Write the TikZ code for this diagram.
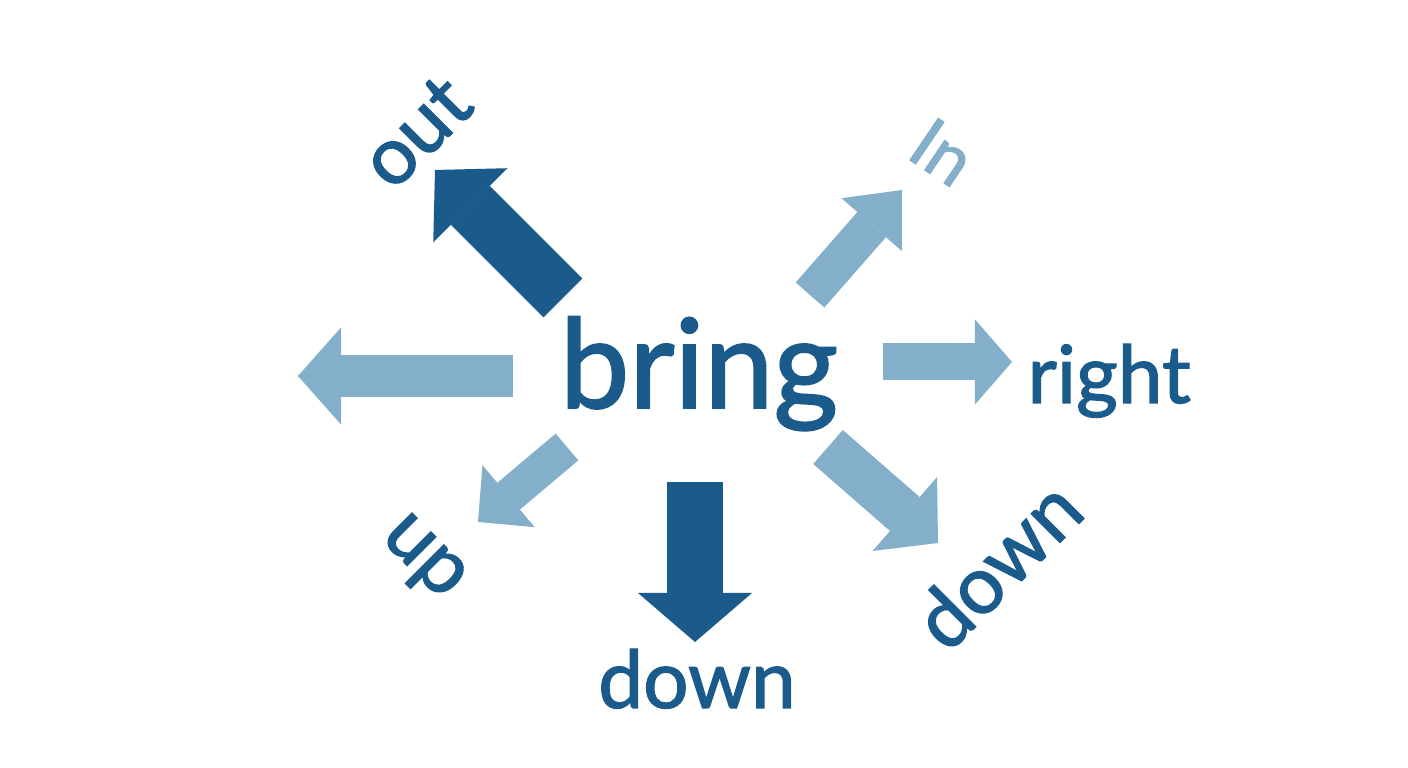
\documentclass[tikz,border=0pt]{standalone}
\usepackage{fontspec}
\setmainfont{Lato}[FakeBold=1.6]
\usetikzlibrary{arrows.meta}
\definecolor{darkblue}{HTML}{1A5B8B}
\definecolor{lightblue}{HTML}{83AFCA}
\begin{document}
\begin{tikzpicture}[x=0.01cm, y=-0.01cm,
  word/.style={text=darkblue, inner sep=0pt, font=\fontsize{22.8}{26}\selectfont},
  blk/.style n args={3}{line width=#1, -{Triangle[width=#2, length=#3, line width=0pt]}},
  dk/.style={draw=darkblue, fill=darkblue},
  lt/.style={draw=lightblue, fill=lightblue}]
\fill[white] (0,0) rectangle (1408,768);
\useasboundingbox (0,0) rectangle (1408,768);
\node[word, anchor=base, font=\fontsize{35.3}{40}\selectfont] (bring) at (699,408) {bring};
\node[word, rotate=45] (out) at (416,132) {out};
\node[word, text=lightblue, rotate=-34, font=\fontsize{20}{24}\selectfont] (in) at (943,152) {In};
\node[word, anchor=base west] (right) at (1027,403) {right};
\node[word, rotate=45] (downr) at (997,564) {down};
\node[word, anchor=base] (down) at (697,708) {down};
\node[word, rotate=-45] (up) at (421,560) {up};
\coordinate (outT) at (563,298);  \coordinate (outH) at (435,170);
\coordinate (inT) at (810,295);   \coordinate (inH) at (902,190);
\coordinate (leftT) at (513,376); \coordinate (leftH) at (298,376);
\coordinate (rightT) at (883,362); \coordinate (rightH) at (1012,362);
\coordinate (drT) at (828,447);   \coordinate (drH) at (938,543);
\coordinate (downT) at (695,482); \coordinate (downH) at (695,642);
\coordinate (upT) at (567,447);   \coordinate (upH) at (478,522);
\draw[dk, blk={0.55cm}{1.05cm}{0.5cm}] (outT) -- (outH);
\draw[lt, blk={0.38cm}{0.8cm}{0.46cm}] (inT) -- (inH);
\draw[lt, blk={0.42cm}{0.97cm}{0.43cm}] (leftT) -- (leftH);
\draw[lt, blk={0.37cm}{0.85cm}{0.37cm}] (rightT) -- (rightH);
\draw[lt, blk={0.45cm}{0.98cm}{0.44cm}] (drT) -- (drH);
\draw[dk, blk={0.55cm}{1.14cm}{0.49cm}] (downT) -- (downH);
\draw[lt, blk={0.35cm}{0.81cm}{0.4cm}] (upT) -- (upH);
\end{tikzpicture}
\end{document}
